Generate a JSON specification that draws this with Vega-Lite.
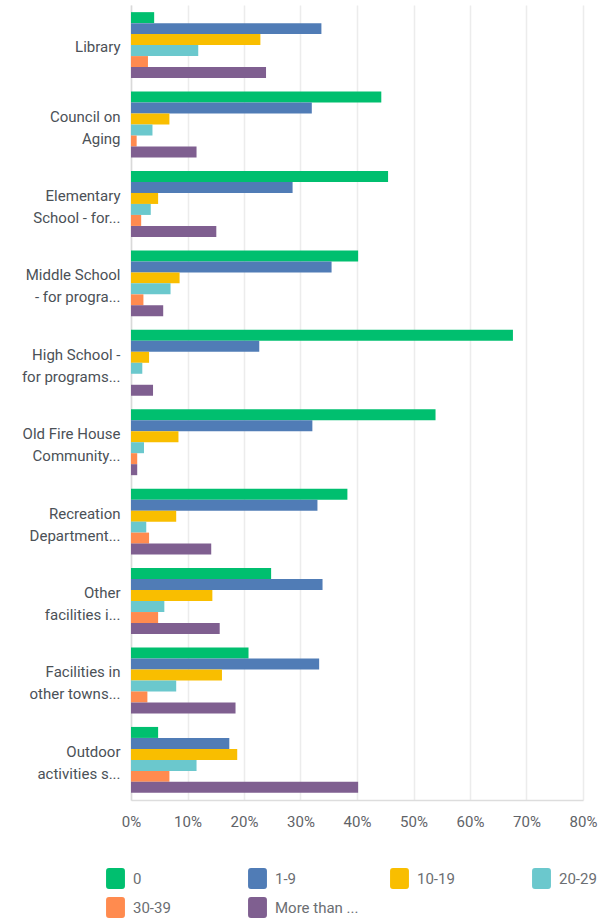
{
  "$schema": "https://vega.github.io/schema/vega-lite/v6.json",
  "width": 452,
  "height": 795,
  "autosize": {"type": "none"},
  "padding": {"left": 131, "top": 5, "right": 28, "bottom": 118},
  "background": "#ffffff",
  "config": {
    "view": {"stroke": null},
    "font": "Roboto"
  },
  "data": {
    "values": [
      {"c": "Library", "s": "0", "v": 0.041},
      {"c": "Library", "s": "1-9", "v": 0.337},
      {"c": "Library", "s": "10-19", "v": 0.229},
      {"c": "Library", "s": "20-29", "v": 0.119},
      {"c": "Library", "s": "30-39", "v": 0.030},
      {"c": "Library", "s": "More than ...", "v": 0.239},
      {"c": "Council on|Aging", "s": "0", "v": 0.443},
      {"c": "Council on|Aging", "s": "1-9", "v": 0.320},
      {"c": "Council on|Aging", "s": "10-19", "v": 0.068},
      {"c": "Council on|Aging", "s": "20-29", "v": 0.038},
      {"c": "Council on|Aging", "s": "30-39", "v": 0.010},
      {"c": "Council on|Aging", "s": "More than ...", "v": 0.116},
      {"c": "Elementary|School - for...", "s": "0", "v": 0.455},
      {"c": "Elementary|School - for...", "s": "1-9", "v": 0.286},
      {"c": "Elementary|School - for...", "s": "10-19", "v": 0.048},
      {"c": "Elementary|School - for...", "s": "20-29", "v": 0.035},
      {"c": "Elementary|School - for...", "s": "30-39", "v": 0.018},
      {"c": "Elementary|School - for...", "s": "More than ...", "v": 0.151},
      {"c": "Middle School|- for progra...", "s": "0", "v": 0.402},
      {"c": "Middle School|- for progra...", "s": "1-9", "v": 0.355},
      {"c": "Middle School|- for progra...", "s": "10-19", "v": 0.086},
      {"c": "Middle School|- for progra...", "s": "20-29", "v": 0.070},
      {"c": "Middle School|- for progra...", "s": "30-39", "v": 0.022},
      {"c": "Middle School|- for progra...", "s": "More than ...", "v": 0.057},
      {"c": "High School -|for programs...", "s": "0", "v": 0.676},
      {"c": "High School -|for programs...", "s": "1-9", "v": 0.227},
      {"c": "High School -|for programs...", "s": "10-19", "v": 0.032},
      {"c": "High School -|for programs...", "s": "20-29", "v": 0.020},
      {"c": "High School -|for programs...", "s": "30-39", "v": 0.0},
      {"c": "High School -|for programs...", "s": "More than ...", "v": 0.039},
      {"c": "Old Fire House|Community...", "s": "0", "v": 0.539},
      {"c": "Old Fire House|Community...", "s": "1-9", "v": 0.321},
      {"c": "Old Fire House|Community...", "s": "10-19", "v": 0.084},
      {"c": "Old Fire House|Community...", "s": "20-29", "v": 0.023},
      {"c": "Old Fire House|Community...", "s": "30-39", "v": 0.011},
      {"c": "Old Fire House|Community...", "s": "More than ...", "v": 0.011},
      {"c": "Recreation|Department...", "s": "0", "v": 0.383},
      {"c": "Recreation|Department...", "s": "1-9", "v": 0.330},
      {"c": "Recreation|Department...", "s": "10-19", "v": 0.080},
      {"c": "Recreation|Department...", "s": "20-29", "v": 0.027},
      {"c": "Recreation|Department...", "s": "30-39", "v": 0.032},
      {"c": "Recreation|Department...", "s": "More than ...", "v": 0.142},
      {"c": "Other|facilities i...", "s": "0", "v": 0.248},
      {"c": "Other|facilities i...", "s": "1-9", "v": 0.339},
      {"c": "Other|facilities i...", "s": "10-19", "v": 0.144},
      {"c": "Other|facilities i...", "s": "20-29", "v": 0.059},
      {"c": "Other|facilities i...", "s": "30-39", "v": 0.048},
      {"c": "Other|facilities i...", "s": "More than ...", "v": 0.157},
      {"c": "Facilities in|other towns...", "s": "0", "v": 0.208},
      {"c": "Facilities in|other towns...", "s": "1-9", "v": 0.333},
      {"c": "Facilities in|other towns...", "s": "10-19", "v": 0.161},
      {"c": "Facilities in|other towns...", "s": "20-29", "v": 0.080},
      {"c": "Facilities in|other towns...", "s": "30-39", "v": 0.029},
      {"c": "Facilities in|other towns...", "s": "More than ...", "v": 0.185},
      {"c": "Outdoor|activities s...", "s": "0", "v": 0.048},
      {"c": "Outdoor|activities s...", "s": "1-9", "v": 0.174},
      {"c": "Outdoor|activities s...", "s": "10-19", "v": 0.188},
      {"c": "Outdoor|activities s...", "s": "20-29", "v": 0.116},
      {"c": "Outdoor|activities s...", "s": "30-39", "v": 0.068},
      {"c": "Outdoor|activities s...", "s": "More than ...", "v": 0.402}
    ]
  },
  "mark": {"type": "bar"},
  "encoding": {
    "y": {
      "field": "c",
      "type": "nominal",
      "sort": null,
      "scale": {"paddingInner": 0.17, "paddingOuter": 0.09},
      "axis": {
        "title": null,
        "labelExpr": "split(datum.label, '|')",
        "labelFontSize": 15,
        "labelColor": "#4b5157",
        "labelLineHeight": 22,
        "labelPadding": 11,
        "labelLimit": 200,
        "labelOffset": {"condition": {"test": "indexof(datum.value, '|') >= 0", "value": -8}, "value": 2},
        "ticks": false,
        "domain": true,
        "domainColor": "#d9d9d9",
        "domainWidth": 1.5,
        "grid": false
      }
    },
    "yOffset": {
      "field": "s",
      "type": "nominal",
      "sort": ["0", "1-9", "10-19", "20-29", "30-39", "More than ..."],
      "scale": {"paddingInner": 0, "paddingOuter": 0}
    },
    "x": {
      "field": "v",
      "type": "quantitative",
      "scale": {"domain": [0, 0.8], "nice": false},
      "axis": {
        "title": null,
        "format": ".0%",
        "values": [0, 0.1, 0.2, 0.3, 0.4, 0.5, 0.6, 0.7, 0.8],
        "labelFlush": false,
        "labelFontSize": 15,
        "labelColor": "#5f6368",
        "labelPadding": 14,
        "ticks": false,
        "domain": true,
        "domainColor": "#dddddd",
        "domainWidth": 1.5,
        "grid": true,
        "gridColor": "#ececec",
        "gridWidth": 1.5
      }
    },
    "color": {
      "field": "s",
      "type": "nominal",
      "sort": ["0", "1-9", "10-19", "20-29", "30-39", "More than ..."],
      "scale": {
        "domain": ["0", "1-9", "10-19", "20-29", "30-39", "More than ..."],
        "range": ["#00bf6f", "#507cb6", "#f9be00", "#6bc8cd", "#ff8b4f", "#7f5f90"]
      },
      "legend": {
        "title": null,
        "orient": "none",
        "legendX": -26,
        "legendY": 863,
        "direction": "horizontal",
        "columns": 4,
        "gridAlign": "all",
        "columnPadding": 30,
        "rowPadding": 8,
        "padding": 0,
        "offset": 0,
        "symbolType": "M-0.62,-1 L0.62,-1 Q0.9,-1 0.9,-0.72 L0.9,0.72 Q0.9,1 0.62,1 L-0.62,1 Q-0.9,1 -0.9,0.72 L-0.9,-0.72 Q-0.9,-1 -0.62,-1 Z",
        "symbolSize": 441,
        "symbolStrokeWidth": 0,
        "symbolOpacity": 1,
        "labelOffset": 7,
        "labelFontSize": 15,
        "labelColor": "#6b6e72",
        "labelLimit": 200
      }
    }
  }
}
